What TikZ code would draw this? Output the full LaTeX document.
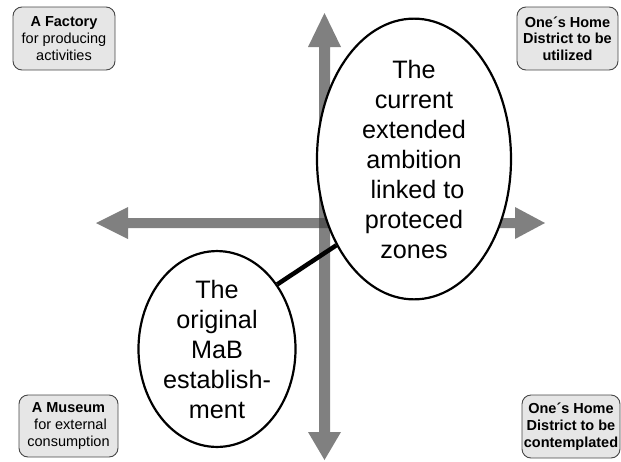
\documentclass[tikz,border=0pt]{standalone}
\usepackage{fontspec}
\setmainfont{Liberation Sans}
\usetikzlibrary{shapes.geometric}
\definecolor{axisgray}{RGB}{64,64,64}
\definecolor{boxfill}{RGB}{230,230,230}
\definecolor{boxline}{RGB}{70,70,70}
\tikzset{
  axis/.style={fill=axisgray, fill opacity=0.667, draw=none},
  corner/.style={draw=boxline, line width=0.9pt, fill=boxfill, rounded corners=9pt,
    align=center, inner sep=0pt, font=\fontsize{14.5}{16.7}\selectfont},
  bubble/.style={ellipse, draw=black, line width=2.2pt, fill=white, inner sep=0pt,
    align=center, font=\fontsize{25.2}{30}\selectfont},
  link/.style={line width=4.5pt, black}
}
\begin{document}
\begin{tikzpicture}[x=1pt, y=-1pt]
  \useasboundingbox (0,0) rectangle (621,461);
  % horizontal double arrow
  \path[axis] (96,223) -- (128,207) -- (128,218) -- (515,218) -- (515,207) -- (545,223)
    -- (515,239) -- (515,228) -- (128,228) -- (128,239) -- cycle;
  % vertical double arrow
  \path[axis] (324.5,13) -- (341,47) -- (330,47) -- (330,432) -- (341,432) -- (324.5,460)
    -- (308,432) -- (319,432) -- (319,47) -- (308,47) -- cycle;

  % the two ellipses and their link
  \node[bubble, minimum width=194pt, minimum height=228pt] (big) at (414,159)
    {The\\current\\extended\\ambition\\\ linked to\\proteced\\zones};
  \node[bubble, minimum width=157pt, minimum height=176pt] (small) at (217,349)
    {The\\original\\MaB\\establish-\\ment};
  \draw[link] (small.47) -- (big.228);

  % corner labels
  \node[corner, minimum width=102pt, minimum height=63pt] (tl) at (64,38.5)
    {\textbf{A Factory}\\for producing\\activities};
  \node[corner, minimum width=101pt, minimum height=63pt] (tr) at (567.5,38.5)
    {\textbf{One\textasciiacute s Home}\\\textbf{District to be}\\\textbf{utilized}};
  \node[corner, minimum width=99pt, minimum height=62pt] (bl) at (68.5,426)
    {\textbf{A Museum}\\\ for external\\consumption};
  \node[corner, minimum width=98pt, minimum height=63pt] (br) at (571,426.5)
    {\textbf{One\textasciiacute s Home}\\\textbf{District to be}\\\textbf{contemplated}};
\end{tikzpicture}
\end{document}
